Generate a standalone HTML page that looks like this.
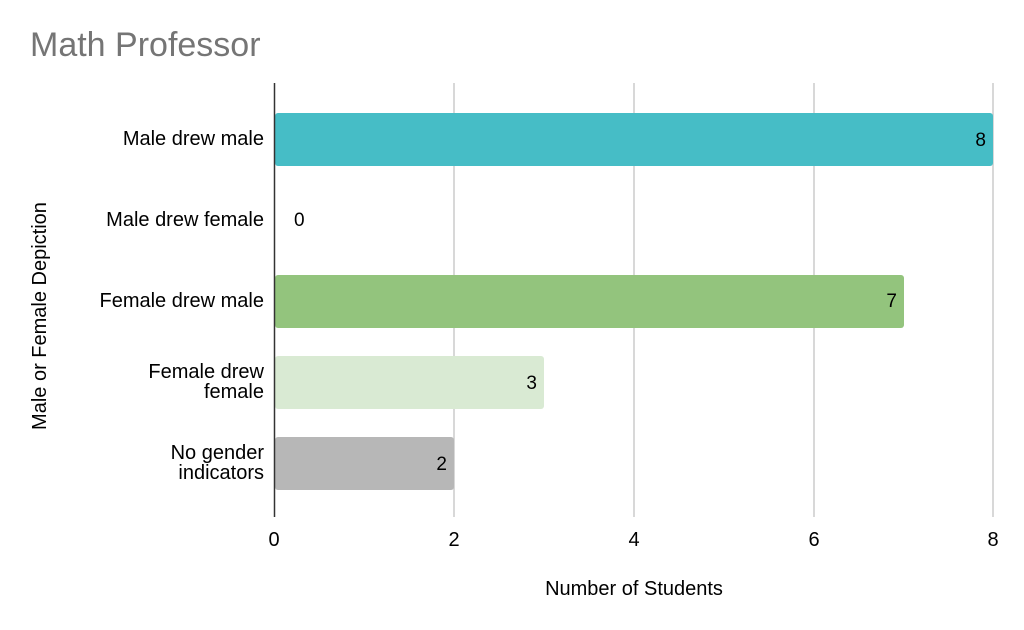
<!DOCTYPE html>
<html><head><meta charset="utf-8"><style>
html,body{margin:0;padding:0;background:#fff;}
svg{display:block;font-family:"Liberation Sans",Arial,sans-serif;}
</style></head><body>
<svg width="1024" height="630" viewBox="0 0 1024 630" xmlns="http://www.w3.org/2000/svg">
<rect width="1024" height="630" fill="#fff"/>
<text x="30" y="56" font-size="34" fill="#757575">Math Professor</text>
<g stroke="#cccccc" stroke-width="1.5">
<line x1="454" y1="83" x2="454" y2="517"/>
<line x1="634" y1="83" x2="634" y2="517"/>
<line x1="814" y1="83" x2="814" y2="517"/>
<line x1="993" y1="83" x2="993" y2="517"/>
</g>
<rect x="275" y="113" width="718" height="53" rx="3" fill="#46bdc6"/>
<rect x="275" y="275" width="629" height="53" rx="3" fill="#93c47d"/>
<rect x="275" y="356" width="269" height="53" rx="3" fill="#d9ead3"/>
<rect x="275" y="437" width="179" height="53" rx="3" fill="#b7b7b7"/>
<line x1="274.5" y1="83" x2="274.5" y2="517" stroke="#333" stroke-width="1.5"/>
<g font-size="19" fill="#000">
<text x="986" y="146" text-anchor="end">8</text>
<text x="294" y="226">0</text>
<text x="897" y="307" text-anchor="end">7</text>
<text x="537" y="389" text-anchor="end">3</text>
<text x="447" y="470" text-anchor="end">2</text>
</g>
<g font-size="20" fill="#000" text-anchor="end">
<text x="264" y="145">Male drew male</text>
<text x="264" y="226">Male drew female</text>
<text x="264" y="307">Female drew male</text>
<text x="264" y="378">Female drew</text>
<text x="264" y="398">female</text>
<text x="264" y="459">No gender</text>
<text x="264" y="479">indicators</text>
</g>
<g font-size="20" fill="#000" text-anchor="middle">
<text x="274" y="546">0</text>
<text x="454" y="546">2</text>
<text x="634" y="546">4</text>
<text x="814" y="546">6</text>
<text x="993" y="546">8</text>
<text x="634" y="595">Number of Students</text>
<text transform="translate(46,316) rotate(-90)">Male or Female Depiction</text>
</g>
</svg>
</body></html>
